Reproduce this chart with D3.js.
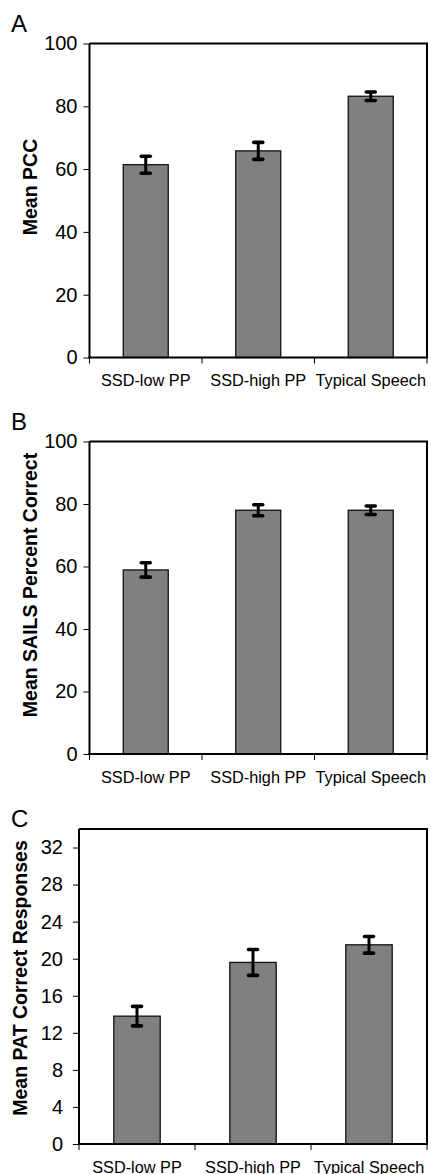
<!DOCTYPE html>
<html>
<head>
<meta charset="utf-8">
<script src="https://cdn.jsdelivr.net/npm/d3@7"></script>
<style>
  html, body { margin: 0; padding: 0; background: #fff; }
  svg { display: block; }
  text { font-family: "Liberation Sans", Arial, sans-serif; fill: #000; }
</style>
</head>
<body>
<svg id="chart" width="431" height="1174"></svg>
<script>
// ---- data ----
const categories = ["SSD-low PP", "SSD-high PP", "Typical Speech"];

const pccMeans = [61.4, 65.8, 83.2];
const pccErrors = [2.7, 2.7, 1.35];
const pccTicks = [0, 20, 40, 60, 80, 100];

const sailsMeans = [58.9, 78.0, 78.0];
const sailsErrors = [2.3, 1.75, 1.35];
const sailsTicks = [0, 20, 40, 60, 80, 100];

const patMeans = [13.8, 19.6, 21.5];
const patErrors = [1.05, 1.4, 0.9];
const patTicks = [0, 4, 8, 12, 16, 20, 24, 28, 32];

const panelLetters = ["A", "B", "C"];
const yTitles = ["Mean PCC", "Mean SAILS Percent Correct", "Mean PAT Correct Responses"];

// ---- layout ----
const panels = [
  { letter: panelLetters[0], title: yTitles[0], means: pccMeans, errs: pccErrors, ticks: pccTicks, yMax: 100,
    left: 89.5, right: 427, top: 43.5, bottom: 357.5, titleX: 37, titleY: 187, tickGap: 12 },
  { letter: panelLetters[1], title: yTitles[1], means: sailsMeans, errs: sailsErrors, ticks: sailsTicks, yMax: 100,
    left: 89.5, right: 427, top: 441.5, bottom: 754, titleX: 37, titleY: 585, tickGap: 12 },
  { letter: panelLetters[2], title: yTitles[2], means: patMeans, errs: patErrors, ticks: patTicks, yMax: 34,
    left: 79, right: 427, top: 829, bottom: 1144, titleX: 27, titleY: 978, tickGap: 16 }
];
const letterPos = [[11, 32], [11, 430], [11, 827]];

const svg = d3.select("#chart");

panels.forEach((p, i) => {
  const g = svg.append("g");
  const x = d3.scaleBand().domain(categories).range([p.left, p.right])
    .paddingInner(0.6).paddingOuter(0.3);
  const y = d3.scaleLinear().domain([0, p.yMax]).range([p.bottom, p.top]);

  // bars
  g.selectAll("rect.bar").data(categories).join("rect")
    .attr("class", "bar")
    .attr("x", d => x(d))
    .attr("width", x.bandwidth())
    .attr("y", (d, j) => y(p.means[j]))
    .attr("height", (d, j) => y(0) - y(p.means[j]))
    .attr("fill", "#808080")
    .attr("stroke", "#111")
    .attr("stroke-width", 1.3);

  // error bars
  const eb = g.selectAll("g.err").data(categories).join("g").attr("class", "err");
  eb.append("line")
    .attr("x1", d => x(d) + x.bandwidth() / 2)
    .attr("x2", d => x(d) + x.bandwidth() / 2)
    .attr("y1", (d, j) => y(p.means[j] + p.errs[j]))
    .attr("y2", (d, j) => y(p.means[j] - p.errs[j]))
    .attr("stroke", "#000").attr("stroke-width", 3);
  [1, -1].forEach(s => {
    eb.append("line")
      .attr("x1", d => x(d) + x.bandwidth() / 2 - 4.5)
      .attr("x2", d => x(d) + x.bandwidth() / 2 + 4.5)
      .attr("y1", (d, j) => y(p.means[j] + s * p.errs[j]))
      .attr("y2", (d, j) => y(p.means[j] + s * p.errs[j]))
      .attr("stroke", "#000").attr("stroke-width", 3.6).attr("stroke-linecap", "round");
  });

  // frame (top and right)
  g.append("path")
    .attr("d", `M${p.left},${p.top}H${p.right}V${p.bottom}`)
    .attr("fill", "none").attr("stroke", "#000").attr("stroke-width", 2);

  // y axis
  const yAxis = d3.axisLeft(y).tickValues(p.ticks).tickSize(6).tickSizeOuter(0).tickPadding(p.tickGap - 6);
  const ya = g.append("g").attr("transform", `translate(${p.left},0)`).call(yAxis);
  ya.select(".domain").remove();
  ya.selectAll(".tick line").attr("stroke", "#000").attr("stroke-width", 1);
  ya.selectAll(".tick text").attr("font-size", 20).attr("font-family", "'Liberation Sans', Arial, sans-serif").attr("fill", "#000");
  g.append("line").attr("x1", p.left).attr("x2", p.left).attr("y1", p.top).attr("y2", p.bottom + 1)
    .attr("stroke", "#000").attr("stroke-width", 2);

  // x axis
  g.append("line").attr("x1", p.left - 1).attr("x2", p.right + 1).attr("y1", p.bottom).attr("y2", p.bottom)
    .attr("stroke", "#000").attr("stroke-width", 2);
  g.selectAll("line.xt").data(d3.range(categories.length + 1)).join("line")
    .attr("class", "xt")
    .attr("x1", k => x(categories[0]) - x.step() * x.paddingOuter() + k * x.step())
    .attr("x2", k => x(categories[0]) - x.step() * x.paddingOuter() + k * x.step())
    .attr("y1", p.bottom).attr("y2", p.bottom + 6)
    .attr("stroke", "#000").attr("stroke-width", 1);
  g.selectAll("text.xl").data(categories).join("text")
    .attr("class", "xl")
    .attr("x", d => x(d) + x.bandwidth() / 2)
    .attr("y", p.bottom + 28.5)
    .attr("text-anchor", "middle")
    .attr("font-size", 16.3)
    .text(d => d);

  // y title
  g.append("text")
    .attr("transform", `translate(${p.titleX},${p.titleY}) rotate(-90)`)
    .attr("text-anchor", "middle")
    .attr("font-size", 19.5)
    .attr("font-weight", "bold")
    .text(p.title);

  // panel letter
  g.append("text")
    .attr("x", letterPos[i][0]).attr("y", letterPos[i][1])
    .attr("font-size", 24)
    .text(p.letter);
});
</script>
</body>
</html>
